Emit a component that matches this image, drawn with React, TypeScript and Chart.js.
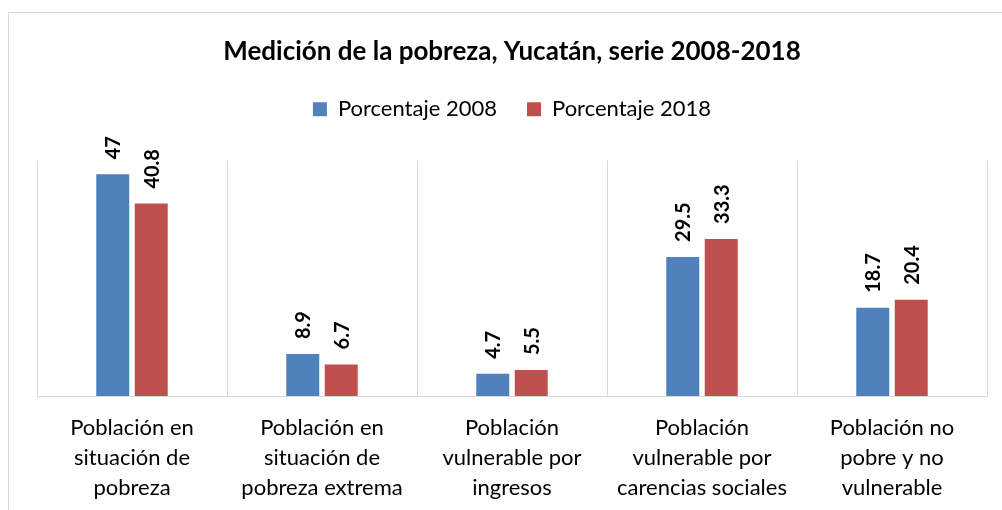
import React, { useEffect, useRef } from "react";
import { Chart, registerables } from "chart.js";

Chart.register(...registerables);

const categories: string[][] = [
  ["Población en", "situación de", "pobreza"],
  ["Población en", "situación de", "pobreza extrema"],
  ["Población", "vulnerable por", "ingresos"],
  ["Población", "vulnerable por", "carencias sociales"],
  ["Población no", "pobre y no", "vulnerable"],
];
const values2008: number[] = [47, 8.9, 4.7, 29.5, 18.7];
const values2018: number[] = [40.8, 6.7, 5.5, 33.3, 20.4];
const seriesNames: string[] = ["Porcentaje 2008", "Porcentaje 2018"];
const titleText = "Medición de la pobreza, Yucatán, serie 2008-2018";

const FONT = "Lato, 'Open Sans', sans-serif";

const framePlugin = {
  id: "frame",
  beforeDraw(chart: any) {
    const ctx = chart.ctx;
    ctx.save();
    ctx.strokeStyle = "#d9d9d9";
    ctx.lineWidth = 1;
    ctx.strokeRect(8.5, 12.5, 1200, 700);
    ctx.restore();
  },
};

const valueLabelPlugin = {
  id: "valueLabels",
  afterDatasetsDraw(chart: any) {
    const ctx = chart.ctx;
    ctx.save();
    ctx.font = `bold 20px ${FONT}`;
    ctx.fillStyle = "#000000";
    ctx.textAlign = "left";
    ctx.textBaseline = "middle";
    chart.data.datasets.forEach((ds: any, di: number) => {
      const meta = chart.getDatasetMeta(di);
      meta.data.forEach((bar: any, i: number) => {
        const v = ds.data[i];
        ctx.save();
        ctx.translate(bar.x + 1, bar.y - 15);
        ctx.rotate(-Math.PI / 2);
        ctx.fillText(String(v), 0, 0);
        ctx.restore();
      });
    });
    ctx.restore();
  },
};

export default function App() {
  const ref = useRef<HTMLCanvasElement>(null);
  useEffect(() => {
    if (!ref.current) return;
    const chart = new Chart(ref.current, {
      type: "bar",
      data: {
        labels: categories,
        datasets: [
          {
            label: seriesNames[0],
            data: values2008,
            backgroundColor: "#4F81BD",
            categoryPercentage: 0.405,
            barPercentage: 0.857,
            xAxisID: "x",
          },
          {
            label: seriesNames[1],
            data: values2018,
            backgroundColor: "#C0504D",
            categoryPercentage: 0.405,
            barPercentage: 0.857,
            xAxisID: "x",
          },
        ],
      },
      options: {
        responsive: false,
        animation: false,
        devicePixelRatio: 1,
        layout: { padding: { top: 0, left: 37, right: 15, bottom: 0 } },
        plugins: {
          title: {
            display: true,
            text: titleText,
            color: "#000000",
            font: { family: FONT, size: 26, weight: "bold", lineHeight: 1.2 },
            padding: { top: 36, bottom: 1 },
          },
          legend: {
            display: true,
            position: "top",
            labels: {
              color: "#000000",
              font: { family: FONT, size: 22 },
              boxWidth: 14,
              boxHeight: 14,
              padding: 30,
            },
          },
          tooltip: { enabled: false },
        },
        scales: {
          x: {
            position: "bottom",
            grid: {
              display: true,
              color: "#d9d9d9",
              drawTicks: false,
              offset: true,
            },
            border: { display: true, color: "#d9d9d9" },
            ticks: {
              color: "#000000",
              font: { family: FONT, size: 22, lineHeight: 30 / 22 },
              padding: 17,
              maxRotation: 0,
              autoSkip: false,
            },
            afterFit: (scale: any) => {
              scale.height = 114;
            },
          },
          spacer: {
            type: "category",
            position: "top",
            display: true,
            grid: { display: false, drawTicks: false },
            border: { display: false },
            ticks: { display: false },
            afterFit: (scale: any) => {
              scale.height = 30;
            },
          },
          y: {
            display: false,
            min: 0,
            max: 50,
          },
        },
      },
      plugins: [framePlugin, valueLabelPlugin],
    });
    return () => chart.destroy();
  }, []);
  return (
    <div style={{ position: "absolute", left: 0, top: 0, width: 1002, height: 510 }}>
      <canvas ref={ref} width={1002} height={510} style={{ display: "block" }} />
    </div>
  );
}
